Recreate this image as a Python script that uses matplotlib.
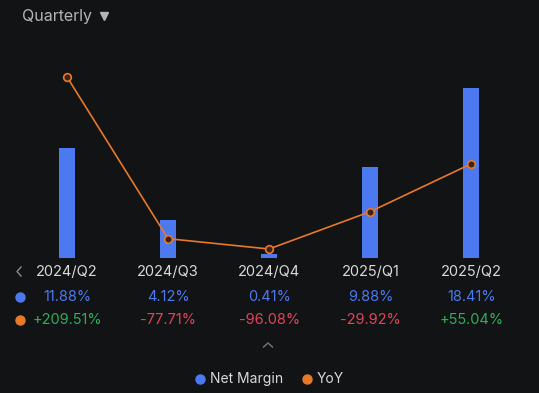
import matplotlib.pyplot as plt

plt.rcParams['font.family'] = ['Inter', 'DejaVu Sans']

quarters = ["2024/Q2", "2024/Q3", "2024/Q4", "2025/Q1", "2025/Q2"]
net_margin = [11.88, 4.12, 0.41, 9.88, 18.41]
yoy = [209.51, -77.71, -96.08, -29.92, 55.04]

bg = "#121314"
blue = "#4d79f0"
orange = "#e8782a"
green = "#2fae5c"
red = "#e0455a"
grey = "#d9d9d9"

fig = plt.figure(figsize=(5.39, 3.93), dpi=100, facecolor=bg)
W, H = 539, 393

# main plot area (pixel layout converted to figure fractions)
ax = fig.add_axes([16.5 / W, (H - 258) / H, 505 / W, 198 / H])
ax.set_facecolor(bg)
x = range(len(quarters))
ax.bar(x, net_margin, width=0.15, color=blue, zorder=2)
ax.set_xlim(-0.5, len(quarters) - 0.5)
ax.set_ylim(0, 21.45)
ax.axis("off")

ax2 = ax.twinx()
ax2.plot(x, yoy, color=orange, lw=1.2, marker="o", ms=5.5,
         mfc="#3a2417", mec=orange, mew=1.2, zorder=3)
ax2.set_ylim(-112.07, 239.6)
ax2.axis("off")

# overlay in pixel coordinates for the table, header and legend
ov = fig.add_axes([0, 0, 1, 1], zorder=-1)
ov.set_xlim(0, W)
ov.set_ylim(H, 0)
ov.axis("off")

# header
ov.text(22, 17, "Quarterly", color="#b5b5b5", fontsize=11.5, va="center", ha="left")
ov.plot([104], [16], marker="v", ms=6, color="#b5b5b5", ls="none")

# table rows under the chart
ov.plot([21, 17, 21], [267, 271.5, 276], color="#8a8a8a", lw=1)
ov.plot([20], [297], "o", ms=6.5, color=blue)
ov.plot([20], [320], "o", ms=6.5, color=orange)
for i, q in enumerate(quarters):
    xc = 67 + 101.2 * i
    ov.text(xc, 272, q, color=grey, fontsize=10.5, va="center", ha="center")
    ov.text(xc, 297, f"{net_margin[i]:.2f}%", color=blue, fontsize=10.5,
            va="center", ha="center")
    ov.text(xc, 320, f"{yoy[i]:+.2f}%", color=green if yoy[i] > 0 else red,
            fontsize=10.5, va="center", ha="center")
ov.plot([263.5, 268, 272.5], [347, 343, 347], color="#777777", lw=1)

# legend
ov.plot([200], [379], "o", ms=6.5, color=blue)
ov.text(210, 379, "Net Margin", color=grey, fontsize=10, va="center", ha="left")
ov.plot([307], [379], "o", ms=6.5, color=orange)
ov.text(317, 379, "YoY", color=grey, fontsize=10, va="center", ha="left")

fig.savefig("out.png", dpi=100, facecolor=bg)
